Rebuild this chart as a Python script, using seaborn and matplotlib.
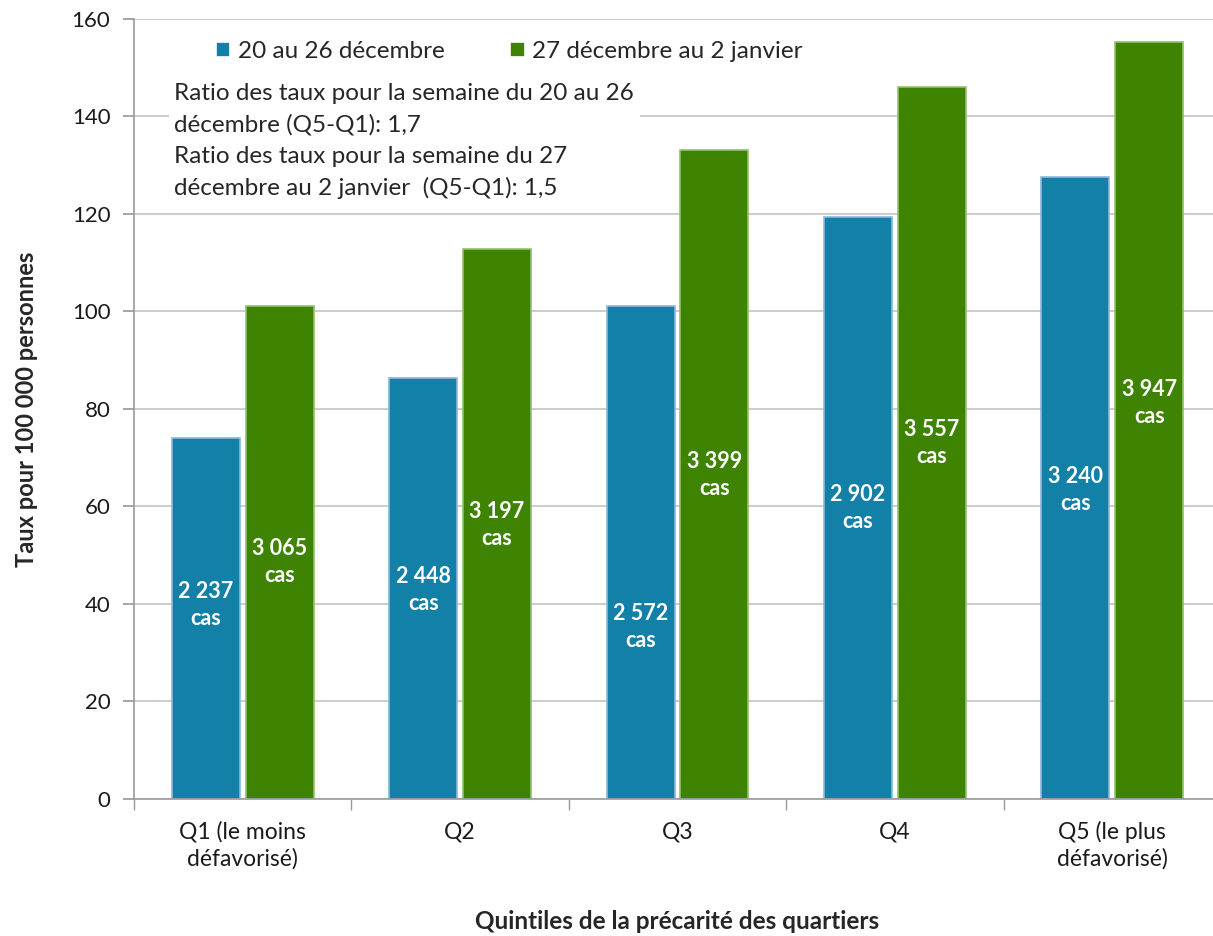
import matplotlib
matplotlib.use("Agg")
import matplotlib.pyplot as plt
import seaborn as sns
import pandas as pd
import numpy as np

categories = ["Q1 (le moins\ndéfavorisé)", "Q2", "Q3", "Q4", "Q5 (le plus\ndéfavorisé)"]
series_names = ["20 au 26 décembre", "27 décembre au 2 janvier"]
week1_rates = [74.0, 86.4, 101.1, 119.4, 127.6]
week2_rates = [101.1, 112.8, 133.2, 146.1, 155.3]
week1_cases = ["2 237", "2 448", "2 572", "2 902", "3 240"]
week2_cases = ["3 065", "3 197", "3 399", "3 557", "3 947"]
annotation = ("Ratio des taux pour la semaine du 20 au 26\n"
              "décembre (Q5-Q1): 1,7\n"
              "Ratio des taux pour la semaine du 27\n"
              "décembre au 2 janvier  (Q5-Q1): 1,5")

# label vertical positions (data units) as placed in the original
week1_label_y = [39.8, 42.9, 35.3, 59.7, 63.4]
week2_label_y = [48.6, 56.2, 66.5, 73.0, 81.2]

colors = ["#1380a8", "#3e8402"]
edgecolors = ["#8ab9da", "#93c070"]

df = pd.DataFrame({
    "Quintile": categories * 2,
    "Semaine": [series_names[0]] * 5 + [series_names[1]] * 5,
    "Taux": week1_rates + week2_rates,
})

sns.set_theme(style="white")
plt.rcParams["font.family"] = ["Lato", "DejaVu Sans"]

fig = plt.figure(figsize=(12.13, 9.36), dpi=100)
ax = fig.add_axes([0.1105, 0.1464, 0.896, 0.8333])

sns.barplot(data=df, x="Quintile", y="Taux", hue="Semaine", order=categories,
            hue_order=series_names, palette=colors, saturation=1, width=0.68, gap=0.08,
            ax=ax, legend=True, linewidth=1.2)

for i, cont in enumerate(ax.containers):
    for p in cont.patches:
        p.set_edgecolor(edgecolors[i])

ax.set_ylim(0, 160)
ax.set_xlim(-0.5, 4.5)
ax.set_yticks(np.arange(0, 161, 20))
ax.yaxis.grid(True, color="#c4c4c4", linewidth=1.2)
ax.set_axisbelow(True)
for s in ["top", "right"]:
    ax.spines[s].set_visible(False)
for s in ["left", "bottom"]:
    ax.spines[s].set_color("#9a9a9a")
    ax.spines[s].set_linewidth(1.2)

ax.tick_params(axis="y", which="major", left=True, length=8, color="#9a9a9a",
               labelsize=16, pad=9, labelcolor="#1a1a1a")
ax.set_xticks(np.arange(-0.5, 4.6, 1.0), minor=True)
ax.tick_params(axis="x", which="minor", bottom=True, length=8, color="#9a9a9a")
ax.tick_params(axis="x", which="major", bottom=False, length=0, labelsize=16.5, pad=16,
               labelcolor="#1a1a1a")
for lbl in ax.get_xticklabels():
    lbl.set_linespacing(1.3)

ax.set_ylabel("Taux pour 100 000 personnes", fontsize=17, fontweight="bold", labelpad=24)
ax.set_xlabel("Quintiles de la précarité des quartiers", fontsize=17.5, fontweight="bold",
              labelpad=29)

# value labels inside bars
for i, cont in enumerate(ax.containers):
    labels = week1_cases if i == 0 else week2_cases
    ys = week1_label_y if i == 0 else week2_label_y
    for p, lab, yy in zip(cont.patches, labels, ys):
        ax.text(p.get_x() + p.get_width() / 2, yy, f"{lab}\ncas", ha="center",
                va="center", color="white", fontsize=15.5, fontweight="bold",
                linespacing=1.35)

leg = ax.legend(loc="upper left", bbox_to_anchor=(0.055, 1.0), ncol=2, frameon=False,
                fontsize=17.5, handlelength=0.6, handleheight=0.6, handletextpad=0.3,
                columnspacing=2.7)

ax.text(0.037, 0.918, annotation, transform=ax.transAxes, ha="left", va="top",
        fontsize=17.5, linespacing=1.58,
        bbox=dict(facecolor="white", edgecolor="none", pad=4))

fig.savefig("out.png", dpi=100)
